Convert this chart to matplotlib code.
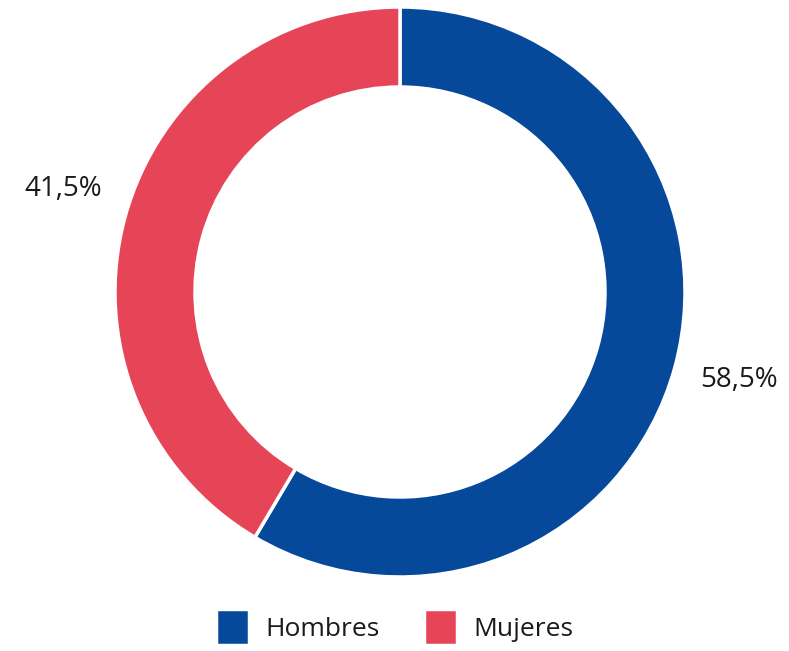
import matplotlib

matplotlib.use("Agg")

import matplotlib.pyplot as plt

labels = ["Hombres", "Mujeres"]
values = [58.5, 41.5]
value_labels = ["58,5%", "41,5%"]
colors = ["#06489A", "#E64558"]

plt.rcParams["font.family"] = ["Open Sans", "DejaVu Sans"]

W, H = 789, 651
cx, cy, r = 400, 292, 285

fig = plt.figure(figsize=(W / 100, H / 100), dpi=100)
ax = fig.add_axes([(cx - r) / W, (H - cy - r) / H, 2 * r / W, 2 * r / H])
wedges, _ = ax.pie(
    values,
    colors=colors,
    startangle=90,
    counterclock=False,
    radius=1,
    wedgeprops=dict(width=80 / r, edgecolor="white", linewidth=2.5),
)
ax.set_xlim(-1, 1)
ax.set_ylim(-1, 1)
ax.set_aspect("equal")
ax.axis("off")

# label positions in data units
label_pos = [(339 / r, -88 / r), (-337 / r, 103 / r)]
for (x, y), text in zip(label_pos, value_labels):
    ax.text(x, y, text, ha="center", va="center", fontsize=20, color="#1a1a1a", clip_on=False)

fig.legend(
    wedges,
    labels,
    loc="center",
    bbox_to_anchor=(0.5, 1 - 627 / H),
    ncol=2,
    frameon=False,
    fontsize=19,
    handlelength=1.25,
    handleheight=1.7,
    handletextpad=0.6,
    columnspacing=1.7,
    labelcolor="#1a1a1a",
)

fig.savefig("out.png", dpi=100)
